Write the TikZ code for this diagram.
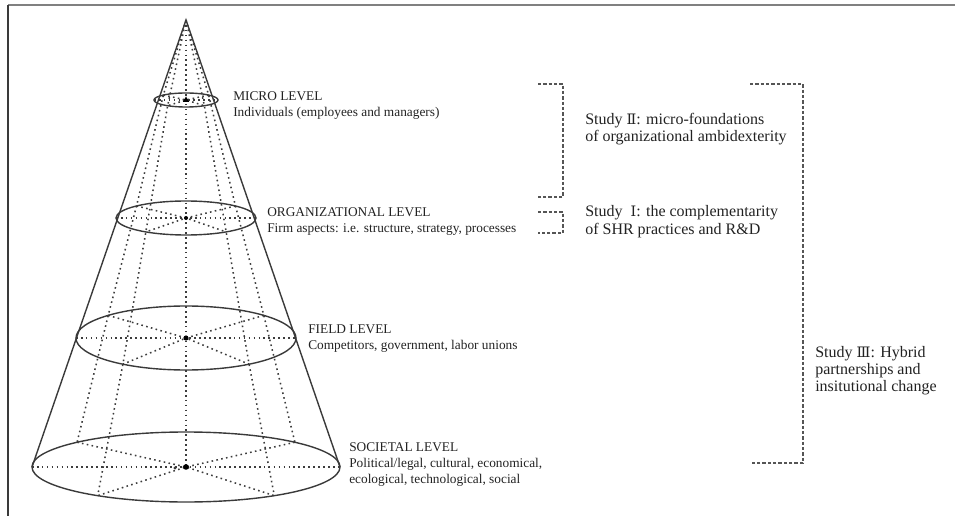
\documentclass[tikz,border=0pt]{standalone}
\usepackage{fontspec}
\setmainfont{Liberation Serif}
\newfontfamily\numeralfont{DejaVu Serif}
\newcommand{\romII}{{\numeralfont\scalebox{0.9}{Ⅱ}}}
\newcommand{\romI}{{\numeralfont\scalebox{0.9}{Ⅰ}}}
\newcommand{\romIII}{{\numeralfont\scalebox{0.9}{Ⅲ}}}
% left-aligned block whose baseline is that of its first line
\newcommand{\stack}[1]{\begin{tabular}[t]{@{}l@{}}#1\end{tabular}}
\definecolor{rimgray}{HTML}{3A3A3A}
\definecolor{dotgray}{HTML}{3C3C3C}
\definecolor{brgray}{HTML}{555555}
\definecolor{framegray}{HTML}{808080}
\definecolor{inkgray}{HTML}{222222}
\begin{document}
\begin{tikzpicture}[x=0.75pt,y=-0.75pt,
  rim/.style={draw=rimgray, line width=1.05pt},
  hidden/.style={draw=dotgray, line width=1.15pt, dash pattern=on 1.2pt off 2.5pt},
  bracket/.style={draw=brgray, line width=1pt, dash pattern=on 2.4pt off 1.6pt},
  levelhead/.style={anchor=base west, inner sep=0pt, text=inkgray,
    font=\fontsize{10}{12}\selectfont},
  studytext/.style={anchor=base west, inner sep=0pt, text=inkgray}]
\useasboundingbox (0,0) rectangle (955,516);

% frame (top and left edges only)
\coordinate (frame-tr) at (955,5.5);
\coordinate (frame-tl) at (8,5.5);
\coordinate (frame-bl) at (8,516);
\draw[framegray, line width=1.5pt] (frame-tr) -- (frame-tl);
\draw[rimgray, line width=1.1pt] (frame-tl) -- (frame-bl);

% cone: apex and four horizontal sections
\coordinate (apex) at (186,20);
\foreach \lv/\cy/\rx/\ry in {micro/100/32/7, org/218/70/17, field/338/110/32, soc/467/154/35}{
  \coordinate (\lv-c) at (186,\cy);
  \foreach \a in {0,45,135,180,235,305}{
    \coordinate (\lv-\a) at ({186+\rx*cos(\a)},{\cy-\ry*sin(\a)});
  }
}

% hidden construction lines
\draw[hidden] (apex) -- (soc-c);
\foreach \a in {45,135,235,305}{
  \draw[hidden] (apex) -- (micro-\a) -- (org-\a) -- (field-\a) -- (soc-\a);
}
\foreach \lv in {micro,org,field,soc}{
  \draw[hidden] (\lv-180) -- (\lv-0);
  \draw[hidden] (\lv-135) -- (\lv-c) -- (\lv-305);
  \draw[hidden] (\lv-45) -- (\lv-c) -- (\lv-235);
}

% outline of the cone and its sections
\draw[rim] (soc-180) -- (apex) -- (soc-0);
\draw[rim] (micro-c) ellipse [x radius=32, y radius=7];
\draw[rim] (org-c) ellipse [x radius=70, y radius=17];
\draw[rim] (field-c) ellipse [x radius=110, y radius=32];
\draw[rim] (soc-c) ellipse [x radius=154, y radius=35];

% centre markers
\fill[black] (micro-c) ++(0,-3.5) -- ++(3.2,5.5) -- ++(-6.4,0) -- cycle;
\fill[black] (org-c) circle [radius=2];
\fill[black] (field-c) circle [radius=2.6];
\fill[black] (soc-c) circle [radius=2.8];
\fill[dotgray] (175,468) circle [radius=1.6];

% level labels
\node[levelhead] (micro-lbl) at (233,101)
  {\stack{MICRO LEVEL\\Individuals (employees and managers)}};
\node[levelhead] (org-lbl) at (267,217)
  {\stack{ORGANIZATIONAL LEVEL\\Firm aspects: i.e. structure, strategy, processes}};
\node[levelhead] (field-lbl) at (308,333)
  {\stack{FIELD LEVEL\\Competitors, government, labor unions}};
\node[levelhead] (soc-lbl) at (349,451)
  {\stack{SOCIETAL LEVEL\\Political/legal, cultural, economical,\\ecological, technological, social}};

% study brackets
\coordinate (s2-top) at (538,84);
\coordinate (s2-tc) at (563,84);
\coordinate (s2-bc) at (563,197);
\coordinate (s2-bot) at (538,197);
\draw[bracket] (s2-top) -- (s2-tc) -- (s2-bc) -- (s2-bot);
\coordinate (s1-top) at (538,212);
\coordinate (s1-tc) at (563,212);
\coordinate (s1-bc) at (563,233);
\coordinate (s1-bot) at (538,233);
\draw[bracket] (s1-top) -- (s1-tc) -- (s1-bc) -- (s1-bot);
\coordinate (s3-top) at (750,84);
\coordinate (s3-tc) at (803,84);
\coordinate (s3-bc) at (803,463);
\coordinate (s3-bot) at (752,463);
\draw[bracket] (s3-top) -- (s3-tc) -- (s3-bc) -- (s3-bot);

% study labels
\node[studytext, font=\fontsize{12}{12}\selectfont] (s2-lbl) at (585,125)
  {\stack{Study \romII: micro-foundations\\of organizational ambidexterity}};
\node[studytext, font=\fontsize{12}{13.5}\selectfont] (s1-lbl) at (585,217)
  {\stack{Study\enspace\romI: the complementarity\\of SHR practices and R\&D}};
\node[studytext, font=\fontsize{12}{13}\selectfont] (s3-lbl) at (815,357)
  {\stack{Study \romIII: Hybrid\\partnerships and\\insitutional change}};
\end{tikzpicture}
\end{document}
